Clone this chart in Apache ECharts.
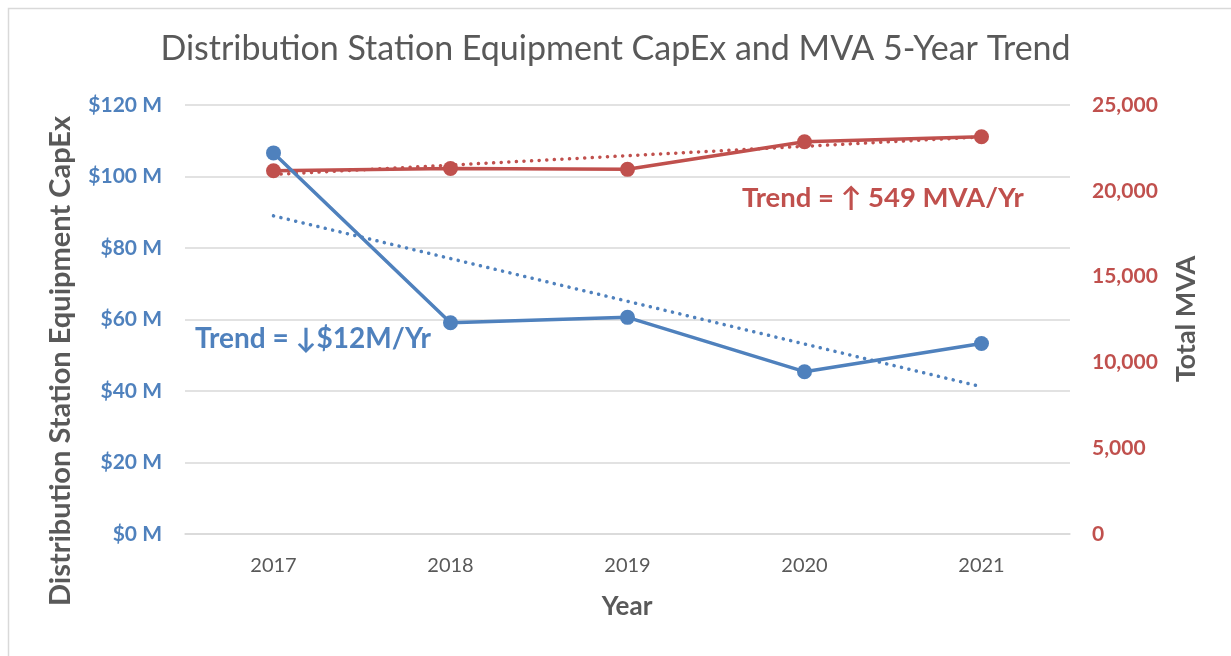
<!DOCTYPE html>
<html>
<head>
<meta charset="utf-8">
<title>Distribution Station Equipment CapEx and MVA 5-Year Trend</title>
<script src="https://cdn.jsdelivr.net/npm/echarts@6/dist/echarts.min.js"></script>
<style>
  html, body { margin: 0; padding: 0; background: #fff; }
  #chart { width: 1231px; height: 656px; }
</style>
</head>
<body>
<div id="chart"></div>
<script>
// data
const years = ['2017', '2018', '2019', '2020', '2021'];
const capex = [106.6, 59.1, 60.6, 45.4, 53.3];          // $ M
const capexTrend = [89.0, null, null, null, 41.2];       // dotted trendline ends
const mva = [21170, 21300, 21250, 22860, 23150];         // total MVA
const mvaTrend = [20950, null, null, null, 23140];
const capexTicks = { min: 0, max: 120, step: 20 };
const mvaTicks = { min: 0, max: 25000, step: 5000 };

const BLUE = '#4f81bd';
const RED = '#c0504d';
const GRAY = '#595959';
const GRID = '#d9d9d9';
const FONT = 'Lato, "Open Sans", sans-serif';

let chart = echarts.init(document.getElementById('chart'));

let option = {
    backgroundColor: '#fff',
    animation: false,
    title: {
        text: 'Distribution Station Equipment CapEx and MVA 5-Year Trend',
        left: 'center',
        top: 27,
        textStyle: { fontFamily: FONT, fontSize: 34, fontWeight: 'normal', color: GRAY }
    },
    grid: { left: 185, right: 161, top: 105, bottom: 122, containLabel: false, outerBoundsMode: 'none' },
    xAxis: {
        type: 'category',
        data: years,
        boundaryGap: true,
        axisLine: { show: true, lineStyle: { color: GRID, width: 1.5 } },
        axisTick: { show: false },
        axisLabel: { margin: 22, color: GRAY, fontFamily: FONT, fontSize: 20 }
    },
    yAxis: [
        {
            type: 'value',
            min: capexTicks.min, max: capexTicks.max, interval: capexTicks.step,
            axisLine: { show: false },
            axisTick: { show: false },
            splitLine: { lineStyle: { color: GRID, width: 1.5 } },
            axisLabel: {
                margin: 23, color: BLUE, fontFamily: FONT, fontSize: 21, fontWeight: 'bold',
                formatter: v => '$' + v + ' M'
            }
        },
        {
            type: 'value',
            position: 'right',
            min: mvaTicks.min, max: mvaTicks.max, interval: mvaTicks.step,
            axisLine: { show: false },
            axisTick: { show: false },
            splitLine: { show: false },
            axisLabel: {
                margin: 22, color: RED, fontFamily: FONT, fontSize: 21, fontWeight: 'bold',
                formatter: v => v.toLocaleString('en-US')
            }
        }
    ],
    series: [
        {
            name: 'MVA trend', type: 'line', yAxisIndex: 1, data: mvaTrend,
            connectNulls: true, symbol: 'none', silent: true,
            lineStyle: { color: RED, width: 3.5, type: [0.1, 7.5], cap: 'round' }
        },
        {
            name: 'Total MVA', type: 'line', yAxisIndex: 1, data: mva,
            symbol: 'circle', symbolSize: 15,
            itemStyle: { color: RED },
            lineStyle: { color: RED, width: 3.5 }
        },
        {
            name: 'CapEx trend', type: 'line', yAxisIndex: 0, data: capexTrend,
            connectNulls: true, symbol: 'none', silent: true,
            lineStyle: { color: BLUE, width: 3.5, type: [0.1, 7.5], cap: 'round' }
        },
        {
            name: 'CapEx', type: 'line', yAxisIndex: 0, data: capex,
            symbol: 'circle', symbolSize: 15,
            itemStyle: { color: BLUE },
            lineStyle: { color: BLUE, width: 3.5 }
        }
    ],
    graphic: [
        // thin frame around the chart area
        { type: 'rect', left: 6, top: 6, silent: true,
          shape: { width: 1300, height: 700 },
          style: { fill: null, stroke: GRID, lineWidth: 1.5 } },
        { type: 'text', x: 61, y: 361, rotation: Math.PI / 2,
          style: { text: 'Distribution Station Equipment CapEx', fill: GRAY,
                   font: 'bold 29px ' + FONT, align: 'center', verticalAlign: 'middle' } },
        { type: 'text', x: 1186, y: 319, rotation: Math.PI / 2,
          style: { text: 'Total MVA', fill: GRAY,
                   font: 'bold 27px ' + FONT, align: 'center', verticalAlign: 'middle' } },
        { type: 'text', x: 627, y: 607,
          style: { text: 'Year', fill: GRAY,
                   font: 'bold 26px ' + FONT, align: 'center', verticalAlign: 'middle' } },
        { type: 'text', x: 195, y: 339,
          style: { text: 'Trend = ↓$12M/Yr', fill: BLUE,
                   font: 'bold 28px ' + FONT, align: 'left', verticalAlign: 'middle' } },
        { type: 'text', x: 742, y: 198,
          style: { text: 'Trend = ↑ 549 MVA/Yr', fill: RED,
                   font: 'bold 27.5px ' + FONT, align: 'left', verticalAlign: 'middle' } }
    ]
};

chart.setOption(option);
</script>
</body>
</html>
